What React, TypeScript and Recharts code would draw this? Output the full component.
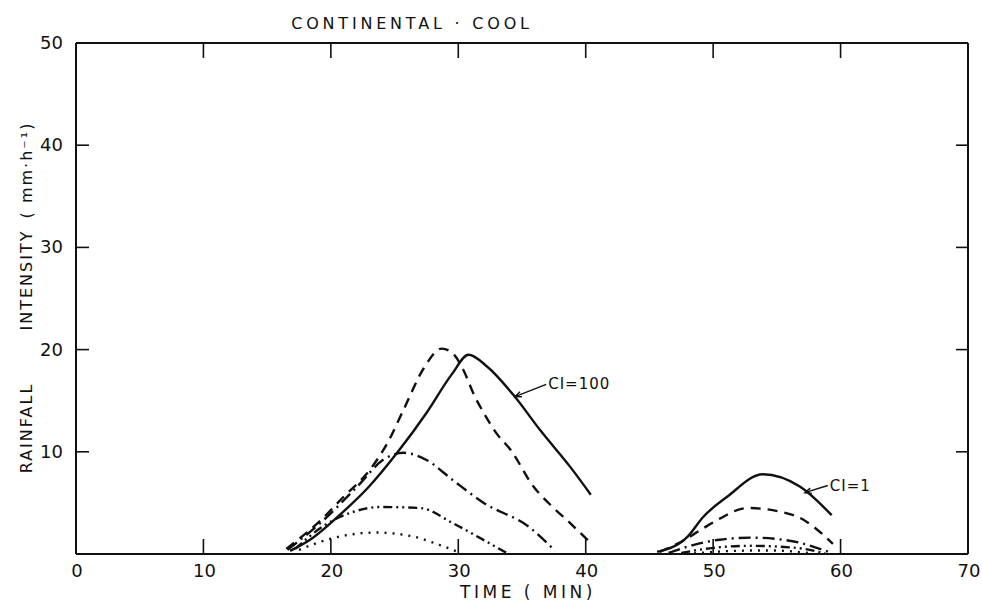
import { LineChart, Line, XAxis, YAxis, Label, ReferenceLine } from 'recharts';

// time (min) vs rainfall intensity (mm/h)
const ci100A = [
  { t: 16.8, v: 0.3 }, { t: 18.6, v: 1.6 }, { t: 20.5, v: 3.6 }, { t: 23, v: 6.6 },
  { t: 25.2, v: 9.9 }, { t: 27.5, v: 13.8 }, { t: 29.5, v: 17.6 }, { t: 30.8, v: 19.5 },
  { t: 32.3, v: 18.3 }, { t: 34.3, v: 15.6 }, { t: 36.5, v: 12.0 }, { t: 38.8, v: 8.5 },
  { t: 40.4, v: 5.8 },
];
const ci10A = [
  { t: 16.5, v: 0.5 }, { t: 19.2, v: 3.3 }, { t: 21, v: 5.6 }, { t: 23.1, v: 8.3 },
  { t: 24.5, v: 11 }, { t: 25.7, v: 14.1 }, { t: 27.3, v: 18.2 }, { t: 28.7, v: 20.1 },
  { t: 29.6, v: 19.6 }, { t: 30.4, v: 18.0 }, { t: 31.3, v: 15.4 }, { t: 32, v: 13.8 },
  { t: 33, v: 11.8 }, { t: 34.1, v: 10.2 }, { t: 35.9, v: 6.6 }, { t: 37.4, v: 4.6 },
  { t: 38.8, v: 3.0 }, { t: 40.2, v: 1.3 },
];
const ci5A = [
  { t: 16.6, v: 0.4 }, { t: 19.5, v: 3.4 }, { t: 22, v: 6.5 }, { t: 24.2, v: 9.3 },
  { t: 25.7, v: 9.9 }, { t: 27.5, v: 9.2 }, { t: 29.6, v: 7.2 }, { t: 32, v: 5.0 },
  { t: 35.6, v: 2.6 }, { t: 37.6, v: 0.3 },
];
const ci2A = [
  { t: 17.2, v: 0.5 }, { t: 19.5, v: 2.8 }, { t: 21.7, v: 4.1 }, { t: 23.9, v: 4.6 },
  { t: 27, v: 4.5 }, { t: 29.6, v: 3.0 }, { t: 31.8, v: 1.5 }, { t: 33.8, v: 0.1 },
];
const ci1A = [
  { t: 17.5, v: 0.4 }, { t: 20, v: 1.5 }, { t: 23.5, v: 2.1 }, { t: 26.5, v: 1.7 },
  { t: 28.5, v: 0.9 }, { t: 30.2, v: 0.1 },
];

const ci100B = [
  { t: 45.6, v: 0.2 }, { t: 48, v: 1.7 }, { t: 49.2, v: 3.6 }, { t: 51.1, v: 5.6 },
  { t: 53.9, v: 7.8 }, { t: 56.8, v: 6.6 }, { t: 59.3, v: 3.8 },
];
const ci10B = [
  { t: 45.8, v: 0.2 }, { t: 47.5, v: 1.2 }, { t: 49.2, v: 2.5 }, { t: 50.3, v: 3.3 },
  { t: 52.7, v: 4.5 }, { t: 56.3, v: 3.8 }, { t: 59.4, v: 1.0 },
];
const ci5B = [
  { t: 46.5, v: 0.1 }, { t: 48.5, v: 0.9 }, { t: 50.5, v: 1.4 }, { t: 53, v: 1.6 },
  { t: 56, v: 1.3 }, { t: 59.3, v: 0.1 },
];
const ci2B = [
  { t: 47.5, v: 0.1 }, { t: 50, v: 0.6 }, { t: 53, v: 0.8 }, { t: 56.5, v: 0.6 },
  { t: 58.8, v: 0.05 },
];
const ci1B = [
  { t: 48.5, v: 0.05 }, { t: 51.5, v: 0.3 }, { t: 54.5, v: 0.35 }, { t: 57.5, v: 0.1 },
];

const xTicks = [0, 10, 20, 30, 40, 50, 60, 70];
const yTicks = [0, 10, 20, 30, 40, 50];

// leader lines: [curve end, label end], label text
const notes = [
  { from: { t: 34.45, v: 15.4 }, to: { t: 36.9, v: 16.6 }, text: 'CI=100' },
  { from: { t: 57.2, v: 6.0 }, to: { t: 59.0, v: 6.7 }, text: 'CI=1' },
];

const INK = '#111';
const FONT = '"DejaVu Sans", sans-serif';

const styles = [
  { a: ci100A, b: ci100B, dash: undefined },
  { a: ci10A, b: ci10B, dash: '10 7' },
  { a: ci5A, b: ci5B, dash: '12 5 2 5' },
  { a: ci2A, b: ci2B, dash: '9 4 2 4 2 4' },
  { a: ci1A, b: ci1B, dash: '2 6' },
];

function BottomTick({ x, y, payload }: any) {
  const inner = payload.value > 0 && payload.value < 70;
  return (
    <g>
      {inner && <line x1={x} x2={x} y1={y} y2={y - 15} stroke={INK} strokeWidth={1.6} />}
      <text x={x + 1} y={y + 23} textAnchor="middle" fontSize={18} fontFamily={FONT} fill={INK}>
        {payload.value}
      </text>
    </g>
  );
}

function TopTick({ x, y, payload }: any) {
  if (payload.value <= 0 || payload.value >= 70) return null;
  return <line x1={x} x2={x} y1={y} y2={y + 15} stroke={INK} strokeWidth={1.6} />;
}

function LeftTick({ x, y, payload }: any) {
  if (payload.value === 0) return null;
  const inner = payload.value < 50;
  return (
    <g>
      {inner && <line x1={x} x2={x + 13} y1={y} y2={y} stroke={INK} strokeWidth={1.6} />}
      <text x={x - 13} y={y + 6} textAnchor="end" fontSize={18} fontFamily={FONT} fill={INK}>
        {payload.value}
      </text>
    </g>
  );
}

function RightTick({ x, y, payload }: any) {
  if (payload.value <= 0 || payload.value >= 50) return null;
  return <line x1={x} x2={x - 12} y1={y} y2={y} stroke={INK} strokeWidth={1.6} />;
}

function YTitle() {
  const cx = 26;
  const items = [
    { txt: 'RAINFALL', cy: 428 },
    { txt: 'INTENSITY', cy: 280 },
    { txt: '( mm·h⁻¹)', cy: 170 },
  ];
  return (
    <g>
      {items.map((it) => (
        <text
          key={it.txt}
          x={cx}
          y={it.cy}
          transform={`rotate(-90 ${cx} ${it.cy})`}
          textAnchor="middle"
          dominantBaseline="central"
          fontSize={16}
          letterSpacing={2}
          fontFamily={FONT}
          fill={INK}
        >
          {it.txt}
        </text>
      ))}
    </g>
  );
}

function XTitle({ viewBox }: any) {
  const cx = viewBox.x + viewBox.width / 2 + 6;
  return (
    <text x={cx} y={viewBox.y + 44} textAnchor="middle" fontSize={17} letterSpacing={3.5} fontFamily={FONT} fill={INK}>
      TIME ( MIN)
    </text>
  );
}

function Leader({ x1, y1, x2, y2, text }: any) {
  const a = Math.atan2(y2 - y1, x2 - x1);
  const h = 7;
  const p1 = `${x1 + h * Math.cos(a + 0.4)},${y1 + h * Math.sin(a + 0.4)}`;
  const p2 = `${x1 + h * Math.cos(a - 0.4)},${y1 + h * Math.sin(a - 0.4)}`;
  return (
    <g>
      <line x1={x1} y1={y1} x2={x2} y2={y2} stroke={INK} strokeWidth={1.4} />
      <polyline points={`${p1} ${x1},${y1} ${p2}`} fill="none" stroke={INK} strokeWidth={1.4} />
      <text x={x2 + 2} y={y2} fontSize={15} letterSpacing={1} fontFamily={FONT} fill={INK} dominantBaseline="central">
        {text}
      </text>
    </g>
  );
}

export default function App() {
  return (
    <div style={{ position: 'absolute', left: 0, top: 0, width: 982, height: 612, background: '#fff' }}>
      <svg style={{ position: 'absolute', left: 0, top: 0 }} width={982} height={40}>
        <text x={412} y={29} textAnchor="middle" fontSize={16} letterSpacing={3.8} fontFamily={FONT} fill={INK}>
          CONTINENTAL · COOL
        </text>
      </svg>
      <LineChart width={982} height={612} margin={{ top: 42, right: 13, bottom: 0, left: 0 }}>
        <XAxis
          xAxisId="b"
          type="number"
          dataKey="t"
          domain={[0, 70]}
          ticks={xTicks}
          orientation="bottom"
          height={58}
          tickSize={0}
          tickMargin={0}
          tickLine={false}
          axisLine={{ stroke: INK, strokeWidth: 2 }}
          tick={<BottomTick />}
          interval={0}
          allowDataOverflow
        >
          <Label content={<XTitle />} />
        </XAxis>
        <XAxis
          xAxisId="t"
          type="number"
          dataKey="t"
          domain={[0, 70]}
          ticks={xTicks}
          orientation="top"
          height={1}
          tickSize={0}
          tickMargin={0}
          tickLine={false}
          axisLine={{ stroke: INK, strokeWidth: 2 }}
          tick={<TopTick />}
          interval={0}
          allowDataOverflow
        />
        <YAxis
          yAxisId="l"
          type="number"
          domain={[0, 50]}
          ticks={yTicks}
          width={76}
          tickSize={0}
          tickMargin={0}
          tickLine={false}
          axisLine={{ stroke: INK, strokeWidth: 2 }}
          tick={<LeftTick />}
          interval={0}
          allowDataOverflow
        >
          <Label content={<YTitle />} />
        </YAxis>
        <YAxis
          yAxisId="r"
          orientation="right"
          type="number"
          domain={[0, 50]}
          ticks={yTicks}
          width={1}
          tickSize={0}
          tickMargin={0}
          tickLine={false}
          axisLine={{ stroke: INK, strokeWidth: 2 }}
          tick={<RightTick />}
          interval={0}
          allowDataOverflow
        />
        {styles.flatMap((s, i) =>
          [s.a, s.b].map((d, j) => (
            <Line
              key={`${i}-${j}`}
              xAxisId="b"
              yAxisId="l"
              data={d}
              dataKey="v"
              type="monotone"
              stroke={INK}
              strokeWidth={2.4}
              strokeDasharray={s.dash}
              dot={false}
              activeDot={false}
              isAnimationActive={false}
            />
          ))
        )}
        {notes.map((n) => (
          <ReferenceLine
            key={n.text}
            xAxisId="b"
            yAxisId="l"
            segment={[{ x: n.from.t, y: n.from.v }, { x: n.to.t, y: n.to.v }]}
            shape={(p: any) => <Leader {...p} text={n.text} />}
          />
        ))}
      </LineChart>
    </div>
  );
}
